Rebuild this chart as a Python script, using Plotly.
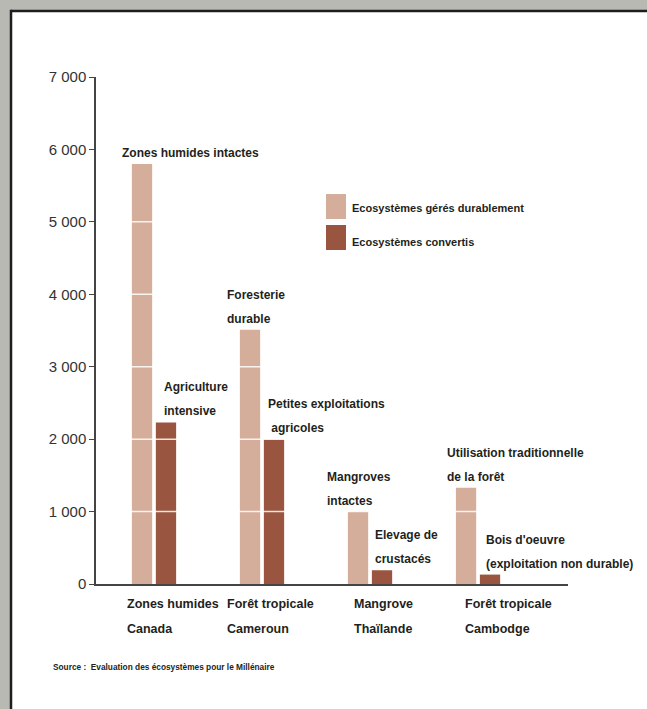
import plotly.graph_objects as go

# ---- data ----
categories = ["Zones humides<br>Canada", "Forêt tropicale<br>Cameroun",
              "Mangrove<br>Thaïlande", "Forêt tropicale<br>Cambodge"]
sustainable = [5800, 3510, 1000, 1330]
converted = [2230, 2000, 190, 130]
sustainable_labels = ["Zones humides intactes", "Foresterie<br>durable",
                      "Mangroves<br>intactes", "Utilisation traditionnelle<br>de la forêt"]
converted_labels = ["Agriculture<br>intensive", "Petites exploitations<br>\u00a0agricoles",
                    "Elevage de<br>crustacés", "Bois d'oeuvre<br>(exploitation non durable)"]
series_names = ["Ecosystèmes gérés durablement", "Ecosystèmes convertis"]
y_tickvals = [0, 1000, 2000, 3000, 4000, 5000, 6000, 7000]
y_ticktext = ["0", "1 000", "2 000", "3 000", "4 000", "5 000", "6 000", "7 000"]
source_text = "Source :\u00a0\u00a0Evaluation des écosystèmes pour le Millénaire"

# ---- style ----
W, H = 647, 709
ML, MR, MT, MB = 96, 79, 77, 125
LIGHT = "#D5AD9B"
DARK = "#9A5540"
TXT = "#231F20"
STONE = "#B9B9B3"
FONT = "Liberation Sans, Arial, sans-serif"
x_idx = list(range(len(categories)))

PW = W - ML - MR
PH = H - MT - MB


def px2paper_x(px):
    return (px - ML) / PW


def px2paper_y(py):
    return (H - MB - py) / PH


fig = go.Figure()
fig.add_trace(go.Bar(x=x_idx, y=sustainable, name=series_names[0],
                     marker=dict(color=LIGHT, line=dict(width=0)), showlegend=False))
fig.add_trace(go.Bar(x=x_idx, y=converted, name=series_names[1],
                     marker=dict(color=DARK, line=dict(width=0)), showlegend=False))

shapes = []
# stone frame (top and left bands) and dark panel border
shapes.append(dict(type="rect", xref="paper", yref="paper",
                   x0=px2paper_x(-5), x1=px2paper_x(W + 5),
                   y0=px2paper_y(10), y1=px2paper_y(-5),
                   fillcolor=STONE, line=dict(width=0), layer="below"))
shapes.append(dict(type="rect", xref="paper", yref="paper",
                   x0=px2paper_x(-5), x1=px2paper_x(10),
                   y0=px2paper_y(H + 5), y1=px2paper_y(-5),
                   fillcolor=STONE, line=dict(width=0), layer="below"))
shapes.append(dict(type="line", xref="paper", yref="paper",
                   x0=px2paper_x(11), x1=px2paper_x(W + 5),
                   y0=px2paper_y(11), y1=px2paper_y(11),
                   line=dict(color="#1E1E1E", width=2.5), layer="below"))
shapes.append(dict(type="line", xref="paper", yref="paper",
                   x0=px2paper_x(11), x1=px2paper_x(11),
                   y0=px2paper_y(H + 5), y1=px2paper_y(9.8),
                   line=dict(color="#1E1E1E", width=2.5), layer="below"))
# white grid lines drawn over bars
for v in y_tickvals[1:-1]:
    shapes.append(dict(type="line", xref="x domain", yref="y",
                       x0=0.01, x1=1, y0=v, y1=v,
                       line=dict(color="rgba(255,255,255,0.85)", width=1.5),
                       layer="above"))
# legend swatches
for i, col in enumerate([LIGHT, DARK]):
    top = 194 + i * 31
    shapes.append(dict(type="rect", xref="paper", yref="paper",
                       x0=px2paper_x(326), x1=px2paper_x(346),
                       y0=px2paper_y(top + 25), y1=px2paper_y(top),
                       fillcolor=col, line=dict(width=0)))

annotations = []
lab_font = dict(family=FONT, size=12, color=TXT)
sus_dx = [-34, -37.5, -45.5, -33.5]
con_dx = [7.7, 4.2, 2.5, 5.5]
line_offsets = [11, 35, 59]


def add_label(xi, yv, text, dx):
    lines = text.split("<br>")
    for k, ln in enumerate(reversed(lines)):
        annotations.append(dict(x=xi, y=yv, xref="x", yref="y", text="<b>" + ln + "</b>",
                                showarrow=False, xanchor="left", yanchor="middle",
                                xshift=dx, yshift=line_offsets[k], font=lab_font))


for i in x_idx:
    add_label(i, sustainable[i], sustainable_labels[i], sus_dx[i])
    add_label(i, converted[i], converted_labels[i], con_dx[i])

# category labels
cat_dx = [-29, -37.5, -18.5, -15.5]
for i, c in enumerate(categories):
    for k, ln in enumerate(c.split("<br>")):
        annotations.append(dict(x=i, y=0, xref="x", yref="y", text="<b>" + ln + "</b>",
                                showarrow=False, xanchor="left", yanchor="middle",
                                xshift=cat_dx[i], yshift=-20 - 25 * k,
                                font=dict(family=FONT, size=12.5, color=TXT)))

# legend texts
for i, nm in enumerate(series_names):
    annotations.append(dict(x=px2paper_x(350), y=px2paper_y(208 + i * 33.5),
                            xref="paper", yref="paper", text="<b>" + nm + "</b>",
                            showarrow=False, xanchor="left", yanchor="middle",
                            font=dict(family=FONT, size=11, color=TXT)))

# source
annotations.append(dict(x=px2paper_x(51), y=px2paper_y(667), xref="paper", yref="paper",
                        text="<b>" + source_text + "</b>", showarrow=False,
                        xanchor="left", yanchor="middle",
                        font=dict(family=FONT, size=8.3, color=TXT)))

fig.update_layout(
    width=W, height=H,
    margin=dict(l=ML, r=MR, t=MT, b=MB, pad=0),
    paper_bgcolor="white",
    plot_bgcolor="rgba(0,0,0,0)",
    barmode="group", bargap=0.556, bargroupgap=0.154,
    shapes=shapes, annotations=annotations,
    showlegend=False,
    xaxis=dict(range=[-0.537, 3.833], showticklabels=False, ticks="",
               showgrid=False, zeroline=False, showline=True,
               linecolor="#444444", linewidth=1.5, fixedrange=True),
    yaxis=dict(range=[0, 7000], tickvals=y_tickvals, ticktext=y_ticktext,
               ticks="outside", ticklen=5, tickwidth=1.2, tickcolor="#444444",
               showgrid=False, zeroline=False, showline=True,
               linecolor="#444444", linewidth=1.5,
               tickfont=dict(family=FONT, size=15, color="#333333"),
               fixedrange=True),
)

fig.write_html("out.html",
               config={"displayModeBar": False},
               post_script="document.body.style.margin='0';"
                           "document.body.style.overflow='hidden';"
                           "document.body.style.background='white';")
